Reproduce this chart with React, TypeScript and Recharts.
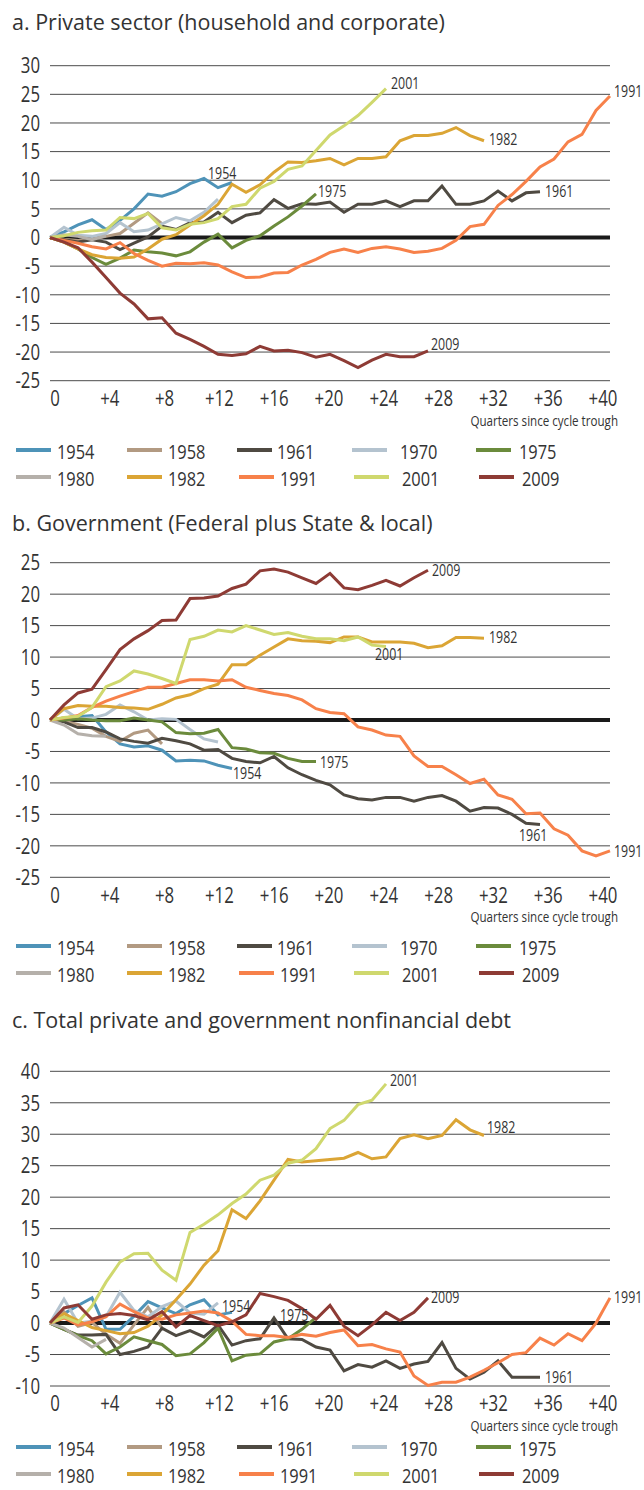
import React from 'react';
import {LineChart, Line, XAxis, YAxis, CartesianGrid, ReferenceLine} from 'recharts';

const QUARTERS = [0, 1, 2, 3, 4, 5, 6, 7, 8, 9, 10, 11, 12, 13, 14, 15, 16, 17, 18, 19, 20,
  21, 22, 23, 24, 25, 26, 27, 28, 29, 30, 31, 32, 33, 34, 35, 36, 37, 38, 39, 40];
const X_TICKS = [0, 4, 8, 12, 16, 20, 24, 28, 32, 36, 40];
const YEARS = ['1954', '1958', '1961', '1970', '1975', '1980', '1982', '1991', '2001', '2009'];

// a. Private sector
const p1954 = [0, 1.0, 2.2, 3.1, 1.4, 3.0, 5.0, 7.6, 7.2, 8.0, 9.4, 10.3, 8.7, 9.6];
const p1958 = [0, -0.3, -0.5, -0.3, 0.2, 0.7, 2.5, 4.3, 2.4];
const p1961 = [0, -0.4, -0.8, -0.4, -0.8, -2.1, -1.0, 0.1, 2.0, 1.4, 2.6, 2.7, 4.4, 2.6, 3.9, 4.3, 6.6, 5.1, 5.9, 5.8,
  6.2, 4.4, 5.8, 5.8, 6.4, 5.4, 6.4, 6.4, 9.0, 5.8, 5.8, 6.4, 8.1, 6.4, 7.8, 8.0];
const p1970 = [0, 1.8, 0.4, 0.2, 0.7, 2.6, 1.0, 1.3, 2.4, 3.5, 2.9, 4.4, 6.7];
const p1975 = [0, -0.8, -2.0, -3.5, -4.7, -3.6, -2.2, -2.5, -2.7, -3.2, -2.5, -0.8, 0.6, -1.8, -0.5, 0.3, 2.0, 3.6, 5.5, 7.6];
const p1980 = [0, 0.5, 0.2, -0.4, 0.3];
const p1982 = [0, -0.8, -2.0, -3.0, -3.5, -3.6, -3.4, -2.0, -0.3, 0.5, 2.2, 3.8, 5.8, 9.3, 7.9, 9.2, 11.4, 13.2, 13.1, 13.4,
  13.8, 12.7, 13.8, 13.8, 14.1, 16.9, 17.8, 17.8, 18.2, 19.2, 17.8, 16.9];
const p1991 = [0, -0.5, -1.0, -1.6, -2.0, -0.9, -2.8, -4.0, -5.0, -4.5, -4.6, -4.4, -4.8, -6.0, -7.0, -6.9, -6.2, -6.1, -4.8, -3.8,
  -2.6, -2.0, -2.6, -1.9, -1.6, -2.0, -2.6, -2.4, -1.9, -0.5, 1.9, 2.3, 5.6, 7.5, 9.8, 12.3, 13.7, 16.7, 18.0, 22.2, 24.7];
const p2001 = [0, 0.3, 0.9, 1.2, 1.3, 3.5, 3.3, 4.2, 1.7, 1.3, 2.3, 2.6, 3.3, 5.4, 5.8, 8.6, 9.8, 11.9, 12.5, 15.2,
  17.9, 19.5, 21.3, 23.6, 26.0];
const p2009 = [0, -0.8, -1.8, -4.3, -7.0, -9.7, -11.6, -14.2, -14.0, -16.7, -17.8, -19.0, -20.4, -20.6, -20.3, -19.0, -19.8, -19.7, -20.1, -20.9,
  -20.4, -21.5, -22.7, -21.4, -20.4, -20.8, -20.8, -19.8];

// b. Government
const g1954 = [0, 0.3, 0.5, 0.7, -1.9, -3.8, -4.3, -4.1, -4.8, -6.5, -6.4, -6.5, -7.2, -7.7];
const g1958 = [0, -0.2, -0.7, -1.3, -2.6, -3.4, -2.1, -1.6, -3.8];
const g1961 = [0, -0.3, -1.2, -1.2, -1.9, -3.0, -3.4, -3.7, -2.9, -3.3, -3.8, -4.8, -4.7, -6.1, -6.6, -6.8, -5.8, -7.6, -8.7, -9.6,
  -10.3, -11.9, -12.5, -12.7, -12.3, -12.3, -12.9, -12.3, -12.0, -12.9, -14.5, -13.9, -14.0, -15.0, -16.4, -16.6];
const g1970 = [0, 1.7, 0.2, 0.3, 0.9, 2.4, 1.3, 0, 0.2, 0.1, -1.5, -3.0, -3.5];
const g1975 = [0, 0, 0.2, 0, -0.1, -0.1, 0.3, 0, -0.3, -2.0, -2.2, -2.1, -1.5, -4.4, -4.6, -5.2, -5.3, -6.1, -6.6, -6.6];
const g1980 = [0, -0.8, -2.2, -2.5, -2.6];
const g1982 = [0, 1.8, 2.3, 2.2, 2.2, 2.0, 1.9, 1.7, 2.5, 3.5, 4.0, 5.0, 5.7, 8.8, 8.8, 10.3, 11.6, 12.9, 12.6, 12.5,
  12.3, 13.2, 13.2, 12.4, 12.4, 12.4, 12.2, 11.5, 11.8, 13.1, 13.1, 13.0];
const g1991 = [0, 0.3, 0.7, 2.0, 3.0, 3.8, 4.5, 5.2, 5.2, 5.8, 6.4, 6.4, 6.2, 6.4, 5.2, 4.7, 4.2, 3.9, 3.2, 1.8,
  1.2, 1.0, -1.1, -1.6, -2.4, -2.6, -5.7, -7.4, -7.4, -8.7, -10.1, -9.4, -11.9, -12.6, -14.9, -14.8, -17.3, -18.3, -20.8, -21.6, -20.8];
const g2001 = [0, 0.4, 0.6, 2.0, 5.3, 6.2, 7.8, 7.3, 6.6, 5.8, 12.8, 13.3, 14.3, 14.0, 15.0, 14.3, 13.6, 13.9, 13.3, 12.9,
  12.9, 12.6, 13.2, 11.9, 11.7];
const g2009 = [0, 2.4, 4.3, 4.9, 8.0, 11.2, 12.9, 14.2, 15.8, 15.9, 19.3, 19.4, 19.7, 20.9, 21.6, 23.7, 24.0, 23.5, 22.6, 21.7,
  23.3, 21.0, 20.7, 21.4, 22.2, 21.3, 22.6, 23.8];

// c. Total nonfinancial debt
const t1954 = [0, 1.5, 2.8, 4.0, -1.0, -1.0, 1.1, 3.4, 2.4, 1.5, 2.9, 3.7, 1.3, 1.7];
const t1958 = [0, 1.8, -0.5, 0.1, -1.8, -3.2, -0.3, 2.5, -0.8];
const t1961 = [0, -1.0, -1.9, -1.9, -1.8, -5.0, -4.5, -3.8, -0.8, -2.0, -1.2, -2.2, -0.3, -3.5, -2.8, -2.5, 0.8, -2.5, -2.6, -3.8,
  -4.3, -7.6, -6.6, -7.0, -6.0, -7.2, -6.5, -6.1, -3.1, -7.2, -8.9, -7.8, -6.0, -8.6, -8.6, -8.6];
const t1970 = [0, 3.8, 0.0, 0.3, 1.0, 4.9, 2.0, 1.0, 2.6, 3.5, 1.6, 1.4, 3.2];
const t1975 = [0, -1.0, -2.0, -2.8, -4.9, -3.8, -2.2, -2.8, -3.4, -5.2, -4.9, -3.1, -0.8, -6.0, -5.1, -4.9, -3.0, -2.5, -1.0, 0.9];
const t1980 = [0, -0.8, -2.3, -3.8, -2.6];
const t1982 = [0, 1.5, 0.4, -0.7, -1.2, -1.7, -1.5, -0.5, 1.3, 3.7, 6.2, 9.2, 11.5, 18.0, 16.6, 19.4, 22.7, 26.0, 25.6, 25.8,
  26.0, 26.2, 27.1, 26.1, 26.4, 29.3, 29.9, 29.3, 29.8, 32.3, 30.7, 29.8];
const t1991 = [0, 0.8, -0.3, 0.2, 1.0, 3.0, 1.8, 0.8, 0.6, 1.3, 1.6, 1.9, 1.6, 0.3, -1.8, -2.0, -2.0, -2.3, -1.8, -2.1,
  -1.5, -1.1, -3.6, -3.4, -4.1, -4.6, -8.4, -9.9, -9.4, -9.4, -8.6, -7.5, -6.3, -5.0, -4.7, -2.4, -3.5, -1.7, -2.8, 0.0, 4.0];
const t2001 = [0, 1.0, 0.1, 2.7, 6.5, 9.7, 11.0, 11.1, 8.4, 6.8, 14.4, 15.7, 17.2, 19.0, 20.5, 22.7, 23.5, 25.4, 25.9, 27.7,
  30.9, 32.2, 34.7, 35.4, 38.0];
const t2009 = [0, 2.4, 2.9, 0.6, 1.3, 1.5, 1.2, 0.5, 1.8, -0.6, 1.2, 0.4, -0.4, 0.2, 1.3, 4.7, 4.2, 3.6, 2.3, 0.6,
  2.8, -0.5, -2.0, -0.3, 1.7, 0.4, 1.7, 4.0];

const COLORS: Record<string, string> = {
  '1954': '#4e93b8',
  '1958': '#b29a82',
  '1961': '#4f4a42',
  '1970': '#b4c3cf',
  '1975': '#6b8b3c',
  '1980': '#b5b0aa',
  '1982': '#dba535',
  '1991': '#f7814a',
  '2001': '#cfd86e',
  '2009': '#8e3b35',
};

const FONT = "'Open Sans', sans-serif";
const SX = 0.8; // horizontal squeeze to mimic the condensed face
const TEXT = '#333';

// condensed text centred vertically on y
function CText({x, y, size, anchor = 'start', children}: any) {
  return (
    <g transform={`translate(${x},${y}) scale(${SX},1)`}>
      <text x={0} y={0} dominantBaseline="central" textAnchor={anchor} fontFamily={FONT} fontSize={size} fill={TEXT}>
        {children}
      </text>
    </g>
  );
}

function buildRows(series: Record<string, number[]>) {
  return QUARTERS.map((q) => {
    const row: Record<string, number | undefined> = {q};
    for (const y of YEARS) row['y' + y] = series[y][q];
    return row;
  });
}

// end-of-line labels: [year, dx, dy]
type EndLabel = [string, number, number];

const panels = [
  {
    title: 'a. Private sector (household and corporate)',
    titleY: 22,
    chartTop: 40,
    plotTop: 65.7,
    plotBottom: 380.7,
    footShift: 0,
    domain: [-25, 30],
    ticks: [-25, -20, -15, -10, -5, 0, 5, 10, 15, 20, 25, 30],
    series: {'1954': p1954, '1958': p1958, '1961': p1961, '1970': p1970, '1975': p1975,
      '1980': p1980, '1982': p1982, '1991': p1991, '2001': p2001, '2009': p2009},
    labels: [['1954', -24, -10], ['1975', 2, -3], ['2001', 5, -6], ['1982', 5, -2],
      ['1961', 5, -1], ['1991', 4, -5], ['2009', 3, -7]] as EndLabel[],
  },
  {
    title: 'b. Government (Federal plus State & local)',
    titleY: 523,
    chartTop: 540,
    plotTop: 562.7,
    plotBottom: 877.3,
    footShift: 0,
    domain: [-25, 25],
    ticks: [-25, -20, -15, -10, -5, 0, 5, 10, 15, 20, 25],
    series: {'1954': g1954, '1958': g1958, '1961': g1961, '1970': g1970, '1975': g1975,
      '1980': g1980, '1982': g1982, '1991': g1991, '2001': g2001, '2009': g2009},
    labels: [['2009', 4, 0], ['1982', 5, -1], ['2001', -11, 8], ['1975', 4, 0],
      ['1954', 1, 4], ['1961', -21, 10], ['1991', 4, 0]] as EndLabel[],
  },
  {
    title: 'c. Total private and government nonfinancial debt',
    titleY: 1020,
    chartTop: 1036,
    plotTop: 1071.3,
    plotBottom: 1386,
    footShift: -8,
    domain: [-10, 40],
    ticks: [-10, -5, 0, 5, 10, 15, 20, 25, 30, 35, 40],
    series: {'1954': t1954, '1958': t1958, '1961': t1961, '1970': t1970, '1975': t1975,
      '1980': t1980, '1982': t1982, '1991': t1991, '2001': t2001, '2009': t2009},
    labels: [['2001', 4, -4], ['1982', 3, -9], ['2009', 3, -1], ['1991', 4, -1],
      ['1961', 5, 0], ['1954', -10, -6], ['1975', -36, -2]] as EndLabel[],
  },
];

const LEGEND_ROWS = [['1954', '1958', '1961', '1970', '1975'], ['1980', '1982', '1991', '2001', '2009']];
const SWATCH_X = [[16, 127, 237, 352, 476], [16, 127, 239, 354, 479]];
const LEGEND_TEXT_X = [[57, 168, 277, 400, 519], [57, 168, 280, 402, 522]];

function XTick(props: any) {
  const {x, y, payload} = props;
  const v = payload.value;
  return <CText x={x + 5 - v * 0.3} y={y + 7.5} size={21} anchor="middle">{v === 0 ? '0' : '+' + v}</CText>;
}

function YTick(props: any) {
  const {x, y, payload} = props;
  return <CText x={x} y={y} size={21} anchor="end">{payload.value}</CText>;
}

function makeLabel(text: string, last: number, dx: number, dy: number) {
  return (props: any) => {
    if (props.index !== last || props.x == null || props.y == null) return <g/>;
    return <CText x={props.x + dx} y={props.y + dy} size={15.5}>{text}</CText>;
  };
}

function Panel({p}: {p: typeof panels[number]}) {
  const height = p.plotBottom - p.chartTop + 40;
  const rows = buildRows(p.series as Record<string, number[]>);
  const labelMap: Record<string, EndLabel> = {};
  p.labels.forEach((l) => { labelMap[l[0]] = l; });
  const footTop = p.plotBottom + 25;
  return (
    <>
      <div style={{position: 'absolute', left: 12, top: p.titleY - 14, fontFamily: FONT,
        fontSize: 21.5, lineHeight: '28px', color: TEXT, whiteSpace: 'nowrap'}}>{p.title}</div>
      <div style={{position: 'absolute', left: 0, top: p.chartTop}}>
        <LineChart width={644} height={height} data={rows}
                   margin={{top: p.plotTop - p.chartTop, right: 34, bottom: 0, left: 0}}>
          <CartesianGrid vertical={false} stroke="#4a4a4a" strokeWidth={1}/>
          <XAxis dataKey="q" type="number" domain={[0, 40]} ticks={X_TICKS} height={40}
                 axisLine={false} tickLine={false} tickSize={0} tickMargin={10} tick={<XTick/>} interval={0}/>
          <YAxis type="number" domain={p.domain} ticks={p.ticks} width={50} interval={0}
                 axisLine={false} tickLine={false} tickSize={0} tickMargin={10} tick={<YTick/>}/>
          <ReferenceLine y={0} stroke="#1a1a1a" strokeWidth={4}/>
          {YEARS.map((y) => {
            const data = (p.series as Record<string, number[]>)[y];
            const l = labelMap[y];
            return (
              <Line key={y} dataKey={'y' + y} type="linear" stroke={COLORS[y]} strokeWidth={3} dot={false}
                    activeDot={false} isAnimationActive={false} connectNulls={false}
                    label={l ? makeLabel(y, data.length - 1, l[1], l[2]) : false}/>
            );
          })}
        </LineChart>
      </div>
      <svg style={{position: 'absolute', left: 0, top: footTop, overflow: 'visible'}} width={644} height={78}>
        <CText x={618} y={14} size={14.5} anchor="end">Quarters since cycle trough</CText>
        {LEGEND_ROWS.map((row, r) => row.map((y, i) => (
          <g key={y}>
            <line x1={SWATCH_X[r][i]} x2={SWATCH_X[r][i] + 35} y1={44 + p.footShift + r * 27}
                  y2={44 + p.footShift + r * 27} stroke={COLORS[y]} strokeWidth={4}/>
            <CText x={LEGEND_TEXT_X[r][i]} y={45 + p.footShift + r * 27} size={20.5}>{y}</CText>
          </g>
        )))}
      </svg>
    </>
  );
}

export default function App() {
  return (
    <div style={{position: 'absolute', left: 0, top: 0, width: 644, height: 1490, background: '#fff', overflow: 'hidden'}}>
      {panels.map((p) => <Panel key={p.title} p={p}/>)}
    </div>
  );
}
